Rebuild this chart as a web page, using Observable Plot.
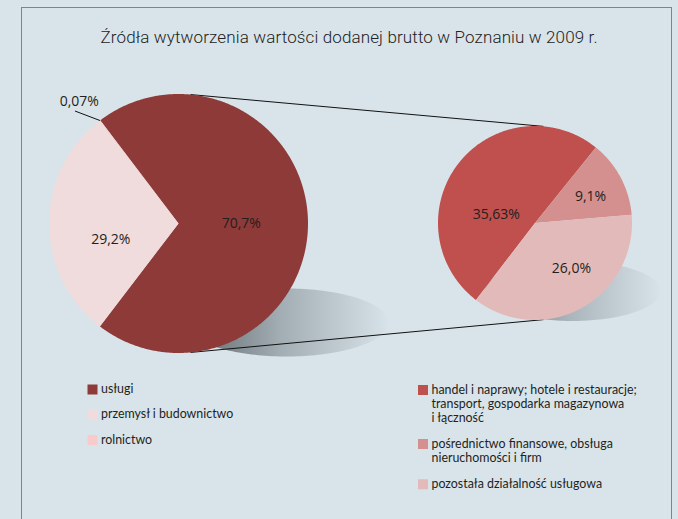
<!DOCTYPE html>
<html><head><meta charset="utf-8">
<script src="https://cdn.jsdelivr.net/npm/d3@7"></script>
<script src="https://cdn.jsdelivr.net/npm/@observablehq/plot@0.6"></script>
<style>
html,body{margin:0;padding:0;background:#d9e4ea;}
#wrap{position:relative;width:678px;height:519px;overflow:hidden;}
#frame{position:absolute;left:21px;top:7px;width:651px;height:530px;border:1.5px solid #a67c4f;box-sizing:border-box;pointer-events:none;}
#chart svg{display:block;}
</style></head><body>
<div id="wrap"><div id="chart"></div><div id="frame"></div></div>
<script>
// ---- data ----
const title = "Źródła wytworzenia wartości dodanej brutto w Poznaniu w 2009 r.";
const mainCategories = ["usługi", "przemysł i budownictwo", "rolnictwo"];
const mainValues = [70.7, 29.2, 0.07];
const mainLabels = ["70,7%", "29,2%", "0,07%"];
const subCategories = [
  "handel i naprawy; hotele i restauracje;\ntransport, gospodarka magazynowa\ni łączność",
  "pośrednictwo finansowe, obsługa\nnieruchomości i firm",
  "pozostała działalność usługowa"
];
const subValues = [35.63, 9.1, 26.0];
const subLabels = ["35,63%", "9,1%", "26,0%"];

// ---- styles / layout ----
const mainColors = ["#8e3a38", "#f0dcdc", "#f9caca"];
const subColors = ["#c0504d", "#d4908e", "#e3baba"];
const W = 678, H = 519;
const deg = Math.PI / 180;
const big = {cx: 178, cy: 223, r: 129.5, start: -37.2 * deg};
const small = {cx: 534.5, cy: 222.5, r: 97, start: -142.5 * deg};
const mainNudge = [[-2, 0], [-3, 16]];
const subNudge = [[-0.6, 21.7], [12.7, -3.7], [13.2, 3.3]];
const legendLeft = {x: 87.5, tops: [384.5, 409.2, 435], textDy: -1.5};
const legendRight = {x: 418, tops: [385, 439, 479.3], textDy: -1.5};
const textColor = "#231f20";

function pie(cats, vals, p) {
  const arcs = d3.pie().sort(null).startAngle(p.start).endAngle(p.start + 2 * Math.PI)(vals);
  const polys = [];
  arcs.forEach((a, i) => {
    const key = cats[i];
    polys.push({key, x: p.cx, y: p.cy});
    const n = Math.max(2, Math.ceil((a.endAngle - a.startAngle) / (0.5 * deg)));
    for (let j = 0; j <= n; j++) {
      const t = a.startAngle + (a.endAngle - a.startAngle) * j / n;
      polys.push({key, x: p.cx + p.r * Math.sin(t), y: p.cy - p.r * Math.cos(t)});
    }
    polys.push({key, x: p.cx, y: p.cy});
  });
  return {arcs, polys};
}
const pt = (p, a, k = 1) => [p.cx + k * p.r * Math.sin(a), p.cy - k * p.r * Math.cos(a)];

const bigPie = pie(mainCategories, mainValues, big);
const smallPie = pie(subCategories, subValues, small);

const labelRows = [];
bigPie.arcs.forEach((a, i) => {
  if (i >= mainNudge.length) return;
  const [x, y] = pt(big, (a.startAngle + a.endAngle) / 2, 0.5);
  labelRows.push({text: mainLabels[i], x: x + mainNudge[i][0], y: y + mainNudge[i][1]});
});
smallPie.arcs.forEach((a, i) => {
  const [x, y] = pt(small, (a.startAngle + a.endAngle) / 2, 0.5);
  labelRows.push({text: subLabels[i], x: x + subNudge[i][0], y: y + subNudge[i][1]});
});
// outside label for the tiny slice
const tiny = bigPie.arcs[2];
const [ex, ey] = pt(big, (tiny.startAngle + tiny.endAngle) / 2);
const leader = [{x1: ex, y1: ey, x2: ex - 25, y2: ey - 9.5}];
const outsideLabel = [{text: mainLabels[2], x: ex - 20.7, y: ey - 19}];

// connector lines between the pies
const connectors = [
  {a1: 5.3, a2: 5},
  {a1: 174.7, a2: 175}
].map(c => {
  const [x1, y1] = pt(big, c.a1 * deg);
  const [x2, y2] = pt(small, c.a2 * deg);
  return {x1, y1, x2, y2};
});

// shadows (decorative ellipses)
function ellipse(key, cx, cy, rx, ry) {
  const out = [];
  for (let j = 0; j <= 180; j++) {
    const t = j / 180 * 2 * Math.PI;
    out.push({key, x: cx + rx * Math.cos(t), y: cy + ry * Math.sin(t)});
  }
  return out;
}
const shadowBig = ellipse("sb", 286, 322, 102, 34);
const shadowSmall = ellipse("ss", 572, 290.5, 88, 30);

// legend
const legendRows = [
  ...mainCategories.map((c, i) => ({key: c, x: legendLeft.x, y: legendLeft.tops[i], dy: legendLeft.textDy})),
  ...subCategories.map((c, i) => ({key: c, x: legendRight.x, y: legendRight.tops[i], dy: legendRight.textDy}))
];

const chart = Plot.plot({
  width: W, height: H, margin: 0,
  x: {domain: [0, W], range: [0, W], axis: null},
  y: {domain: [0, H], range: [0, H], axis: null},
  color: {domain: [...mainCategories, ...subCategories], range: [...mainColors, ...subColors]},
  style: {background: "transparent", fontFamily: "Open Sans", color: textColor},
  marks: [
    Plot.line(shadowBig, {x: "x", y: "y", z: "key", fill: "url(#gradBig)", stroke: "none"}),
    Plot.line(shadowSmall, {x: "x", y: "y", z: "key", fill: "url(#gradSmall)", stroke: "none"}),
    Plot.link(connectors, {x1: "x1", y1: "y1", x2: "x2", y2: "y2", stroke: "#111", strokeWidth: 1}),
    Plot.line(bigPie.polys, {x: "x", y: "y", z: "key", fill: "key", stroke: "none"}),
    Plot.line(smallPie.polys, {x: "x", y: "y", z: "key", fill: "key", stroke: "none"}),
    Plot.link(leader, {x1: "x1", y1: "y1", x2: "x2", y2: "y2", stroke: "#111", strokeWidth: 1}),
    Plot.text(labelRows, {x: "x", y: "y", text: "text", fontSize: 14, fill: textColor, lineAnchor: "middle"}),
    Plot.text(outsideLabel, {x: "x", y: "y", text: "text", fontSize: 14, fill: textColor, lineAnchor: "middle"}),
    Plot.rect(legendRows, {x1: "x", x2: d => d.x + 10, y1: "y", y2: d => d.y + 10, fill: "key"}),
    Plot.text(legendRows, {x: d => d.x + 13, y: d => d.y + d.dy, text: "key", textAnchor: "start", lineAnchor: "top", lineHeight: 1.13, fontSize: 12.4, fontFamily: "Lato", fill: textColor}),
    Plot.text([title], {frameAnchor: "top", dx: 9.5, dy: 42, lineAnchor: "bottom", fontSize: 17, fontFamily: "Roboto", fontWeight: 300, fill: "#222"})
  ]
});

const svg = d3.select(chart);
const defs = svg.insert("defs", ":first-child");
function grad(id, x1, x2, stops) {
  const g = defs.append("linearGradient").attr("id", id).attr("gradientUnits", "userSpaceOnUse")
    .attr("x1", x1).attr("x2", x2).attr("y1", 0).attr("y2", 0);
  stops.forEach(([o, c]) => g.append("stop").attr("offset", o).attr("stop-color", c));
}
grad("gradBig", 190, 390, [[0, "#5f696e"], [0.45, "#a3aeb4"], [1, "#d9e4ea"]]);
grad("gradSmall", 490, 662, [[0, "#6c767b"], [0.45, "#aab5bb"], [1, "#d9e4ea"]]);
const blur = defs.append("filter").attr("id", "soft").attr("x", "-10%").attr("y", "-20%").attr("width", "120%").attr("height", "140%");
blur.append("feGaussianBlur").attr("stdDeviation", 1.5);
svg.selectAll("g[aria-label=line]").filter(function () { const p = this.querySelector("path"); return p && (p.getAttribute("fill") || "").startsWith("url(#grad"); }).attr("filter", "url(#soft)");
// stretch the title to its measured width
svg.selectAll("text").filter(function () { return this.textContent === title; }).attr("textLength", 497).attr("lengthAdjust", "spacing");
document.getElementById("chart").append(chart);
</script>
</body></html>
